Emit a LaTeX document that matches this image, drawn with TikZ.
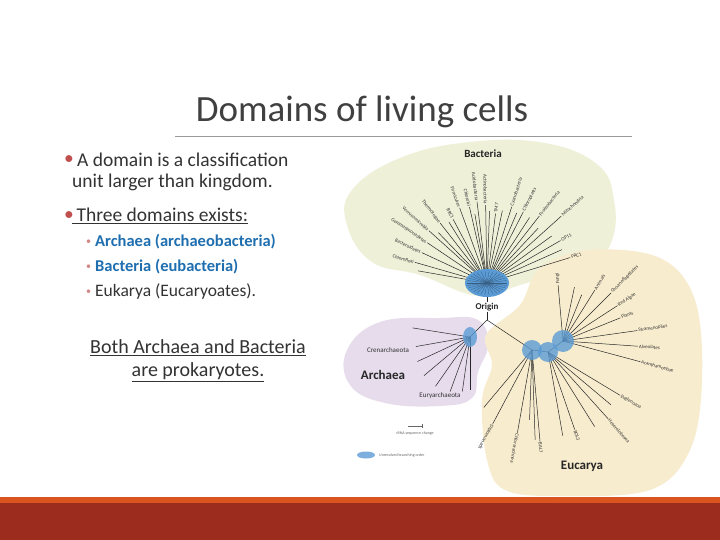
\documentclass[tikz,border=0pt]{standalone}
\usepackage{fontspec}
\setmainfont{Carlito}
\newcommand\myul[1]{\underline{#1}}
\usetikzlibrary{calc}
\definecolor{bult}{HTML}{C0504D}
\definecolor{bluet}{HTML}{1F6FB0}
\definecolor{bgreen}{HTML}{EEF0D8}
\definecolor{apurp}{HTML}{E6DCEC}
\definecolor{etan}{HTML}{F8ECCE}
\definecolor{hubb}{HTML}{5B9BD5}
\definecolor{orline}{RGB}{217,84,30}
\definecolor{redbar}{RGB}{156,44,30}
\begin{document}
\begin{tikzpicture}[x=1pt,y=-1pt,
  br/.style={line width=0.5pt,black!85},
  lab/.style={font=\fontsize{5}{5}\selectfont,inner sep=1pt,black!80},
  dom/.style={font=\fontsize{11}{11}\selectfont\bfseries,text=black!85},
  txt/.style={font=\fontsize{19.5}{22}\selectfont,text=black!80,anchor=west,inner sep=0},
  sub/.style={font=\fontsize{17.5}{19}\selectfont,anchor=west,inner sep=0},
  subb/.style={font=\fontsize{10}{10}\selectfont,text=bult!70,anchor=west,inner sep=0}]
\useasboundingbox (0,0) rectangle (720,540);
\fill[white] (0,0) rectangle (720,540);
% title
\node[font=\fontsize{37}{40}\selectfont,text=black!75] (title) at (362,112) {Domains of living cells};
\draw[black!40,line width=0.6pt] (175,136) -- (632,136);
% left text
\node[txt,text=bult] (b1) at (64,160) {•};
\node[txt] (t1) at (77,160) {A domain is a classification};
\node[txt] (t1b) at (72,182) {unit larger than kingdom.};
\node[txt,text=bult] (b2) at (64,216) {•};
\node[txt] (t2) at (72,216) {\myul{\ Three domains exists:}};
\node[subb] (s1b) at (86,242) {•};
\node[sub,text=bluet,font=\fontsize{16.5}{18}\selectfont\bfseries] (s1) at (95,242) {Archaea (archaeobacteria)};
\node[subb] (s2b) at (86,267) {•};
\node[sub,text=bluet,font=\fontsize{16.5}{18}\selectfont\bfseries] (s2) at (95,267) {Bacteria (eubacteria)};
\node[subb] (s3b) at (86,292) {•};
\node[sub,text=black!80] (s3) at (95,292) {Eukarya (Eucaryoates).};
\node[font=\fontsize{20}{23}\selectfont,text=black!80,align=center] (both) at (198,361) {\myul{Both Archaea and Bacteria}\\\myul{are prokaryotes.}};
% blobs
\fill[bgreen] plot[smooth cycle,tension=0.7] coordinates {(478,296)(420,275)(372,262)(347,225)(352,190)(400,158)(470,142)(545,143)(598,165)(614,200)(612,240)(590,262)(520,285)};
\fill[apurp] plot[smooth cycle,tension=0.7] coordinates {(347,350)(380,322)(440,318)(478,320)(488,345)(478,372)(472,398)(440,406)(385,403)(350,385)};
\fill[etan] plot[smooth cycle,tension=0.6] coordinates {(486,335)(520,305)(540,268)(590,250)(660,258)(695,300)(702,380)(690,450)(650,490)(560,496)(505,490)(487,460)(482,400)(492,365)};
% tree skeleton
\coordinate (hubB) at (487,283);
\coordinate (orig) at (487,320);
\coordinate (hubA) at (470,337);
\coordinate (hubL) at (532,350);
\coordinate (hubM) at (548,352);
\coordinate (hubR) at (563,341);
\draw[br] (hubB) -- (orig);
\draw[br] (orig) -- (hubA);
\draw[br] (orig) -- (hubL) -- (hubM) -- (hubR);
% bacteria fan
\foreach \a/\r/\t in {164/75/Chloroflexi,155/72/Bacteroidetes,146/72/Gemmatimonadetes,138/78/Verrucomicrobia,128/76/Thermotogae,118/72/BRC1,110/80/Firmicutes,103/78/Chlorobi,97/82/Acidobacteria,91/78/Actinobacteria,83/70/TM7,72/80/Cyanobacteria,63/80/Chloroplasts,52/85/Proteobacteria,42/100/Mitochondria,30/85/OP11,17/87/PRC1}{
  \pgfmathsetmacro{\ang}{-\a}
  \draw[br] (hubB) -- ($(hubB)+(\ang:\r)$) coordinate (e);
  \ifnum\a>90
    \node[lab,anchor=east,rotate=\a-180] at (e) {\t};
  \else
    \node[lab,anchor=west,rotate=\a] at (e) {\t};
  \fi
}
\foreach \a/\r in {170/70,134/70,122/72,100/70,88/72,78/74,67/76,57/78,47/75,36/80,24/82}{
  \draw[br] (hubB) -- ($(hubB)+(-\a:\r)$);
}
\fill[hubb] (hubB) ellipse (22pt and 14pt);
\foreach \a in {0,12,...,348}{\draw[hubb!60!black,line width=0.3pt] (hubB) -- ($(hubB)+(\a:20pt and 12pt)$);}
% archaea
\foreach \a/\r in {-171/58,170/55,155/58,140/60,125/60,110/58,98/55,90/53}{
  \draw[br] (hubA) -- ($(hubA)+(\a:\r)$);
}
\fill[hubb,opacity=0.8] (hubA) ellipse (7pt and 10pt);
% eucarya
\foreach \h/\a/\r/\t in {hubR/95/56/Fungi,hubR/58/60/Animals,hubR/45/68/Choanoflagellates,hubR/33/65/Red Algae,hubR/22/62/Plants,hubR/8/75/Stramenopiles,hubR/-4/75/Alveolates,hubR/-15/80/Acanthamoebae,hubM/-31/84/Euglenozoa,hubM/-48/90/Heterolobosea,hubM/-71/82/BOL3,hubL/-85/92/BAL7,hubL/-100/84/Chlorarachnea,hubL/-118/84/Diplomonads}{
  \pgfmathsetmacro{\ang}{-\a}
  \draw[br] (\h) -- ($(\h)+(\ang:\r)$) coordinate (e);
  \node[lab,anchor=west,rotate=\a] at (e) {\t};
}
\foreach \h/\a/\r in {hubR/78/55,hubR/68/50,hubM/-40/82,hubM/-58/88,hubM/-80/85,hubL/-88/90,hubL/-92/70,hubL/-130/75}{
  \draw[br] (\h) -- ($(\h)+(-\a:\r)$);
}
\fill[hubb,opacity=0.8] (hubL) circle (10pt);
\fill[hubb,opacity=0.8] (hubM) circle (10pt);
\fill[hubb,opacity=0.8] (hubR) circle (11pt);
% domain labels
\node[dom] (bact) at (483,154) {Bacteria};
\node[font=\fontsize{9}{9}\selectfont\bfseries,text=black!85,fill=white,inner sep=1pt] (ori) at (487,307) {Origin};
\node[dom,font=\fontsize{13}{13}\selectfont\bfseries] (arch) at (383,375) {Archaea};
\node[dom,font=\fontsize{13}{13}\selectfont\bfseries] (euc) at (582,466) {Eucarya};
\node[lab,font=\fontsize{7}{7}\selectfont] (cren) at (388,350) {Crenarchaeota};
\node[lab,font=\fontsize{7}{7}\selectfont] (eury) at (440,396) {Euryarchaeota};
% legend
\coordinate (l1) at (408,426); \coordinate (l2) at (422,426);
\draw[black!60,line width=0.4pt] (l1) -- (l2);
\draw[black!60,line width=0.4pt] ($(l2)+(0,-2)$) -- ($(l2)+(0,2)$);
\node[lab,font=\fontsize{4}{4}\selectfont,black!60] (lg1) at (415,433) {rRNA sequence change};
\fill[hubb!80] (366,455) ellipse (9pt and 3.5pt);
\node[lab,font=\fontsize{4}{4}\selectfont,black!60,anchor=west] (lg2) at (378,455) {Unresolved branching order};
% bottom bars
\fill[orline] (0,497) rectangle (720,503);
\fill[redbar] (0,503) rectangle (720,540);
\end{tikzpicture}
\end{document}
